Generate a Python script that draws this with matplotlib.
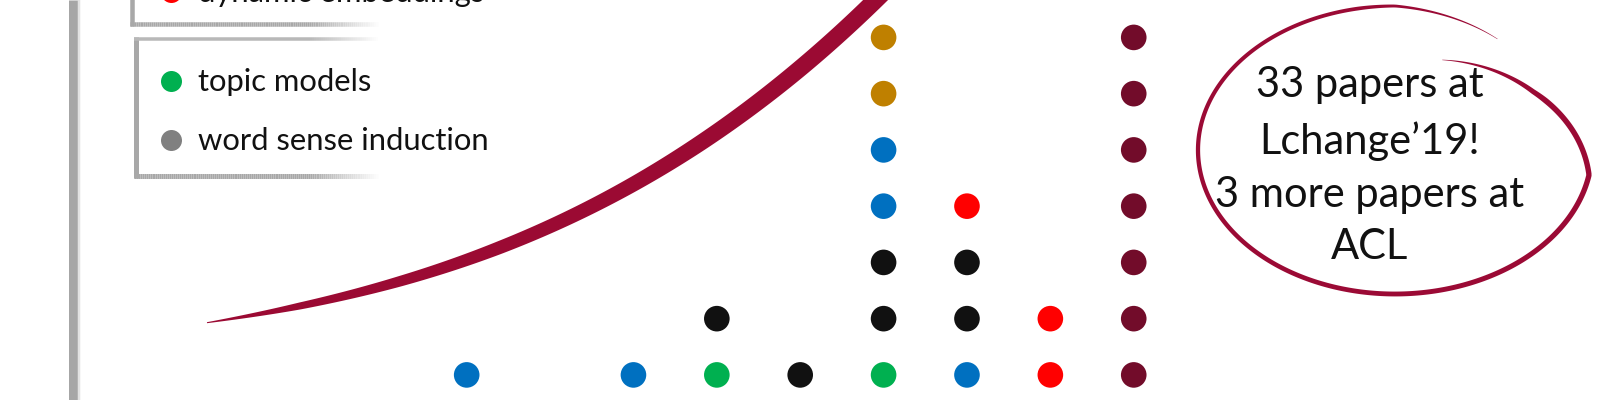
import numpy as np
import matplotlib
matplotlib.use("Agg")
import matplotlib.pyplot as plt
from matplotlib.patches import Polygon
from matplotlib.collections import LineCollection

# ---------------- data ----------------
years = [2011, 2013, 2014, 2015, 2016, 2017, 2018, 2019]
# papers per year, listed bottom -> top by method family
stacks = [
    ["co-occurrence"],
    ["co-occurrence"],
    ["topic models", "static embeddings"],
    ["static embeddings"],
    ["topic models", "static embeddings", "static embeddings",
     "co-occurrence", "co-occurrence", "laws", "laws"],
    ["co-occurrence", "static embeddings", "static embeddings", "dynamic embeddings"],
    ["dynamic embeddings", "dynamic embeddings"],
    ["LChange'19"] * 7,
]
category_colors = {
    "co-occurrence": "#0070C0",
    "topic models": "#00B050",
    "static embeddings": "#111111",
    "dynamic embeddings": "#FF0000",
    "laws": "#BF8000",
    "word sense induction": "#808080",
    "LChange'19": "#720C2A",
}
legend_box1 = ["dynamic embeddings"]
legend_box2 = ["topic models", "word sense induction"]
callout_lines = ["33 papers at", "Lchange\u201919!", "3 more papers at", "ACL"]

# hand-drawn growth swoosh: anchor points (pixels from top-left) and stroke width
swoosh_x = [207, 300, 400, 500, 600, 700, 800, 885]
swoosh_y = [323, 306, 280, 247, 205, 143, 66, -8]
swoosh_w = [1.0, 7.0, 10.5, 13.0, 14.5, 16.0, 17.0, 17.5]

# ---------------- figure ----------------
W, H, DPI = 1600, 400, 100
plt.rcParams['font.family'] = ['Lato', 'DejaVu Sans']
fig = plt.figure(figsize=(W / DPI, H / DPI), dpi=DPI)
fig.patch.set_facecolor("white")
ax = fig.add_axes([0, 0, 1, 1])
ax.set_xlim(2005.403, 2024.592)
ax.set_ylim(-0.446, 6.665)
ax.axis("off")

xs, ys, cs = [], [], []
for yr, stack in zip(years, stacks):
    for lvl, cat in enumerate(stack):
        xs.append(yr)
        ys.append(lvl)
        cs.append(category_colors[cat])
ax.scatter(xs, ys, s=340, c=cs, edgecolors="none", zorder=4)


def F(x, y):
    """pixel (from top-left) -> figure fraction"""
    return (x / W, 1 - y / H)


def tapered(P, widths, color, z=3):
    P = np.asarray(P, float)
    P = np.column_stack([P[:, 0], H - P[:, 1]])
    d = np.gradient(P, axis=0)
    d /= np.linalg.norm(d, axis=1, keepdims=True)
    n = np.column_stack([-d[:, 1], d[:, 0]])
    w = np.asarray(widths)[:, None] / 2
    poly = np.vstack([P + n * w, (P - n * w)[::-1]]) / [W, H]
    fig.add_artist(Polygon(poly, closed=True, transform=fig.transFigure,
                           facecolor=color, edgecolor="none", zorder=z))


# ---- y "axis" bar ----
fig.add_artist(plt.Line2D([73 / W] * 2, [0, 1], lw=9 * 0.72, color="#A6A6A6",
                          solid_capstyle="butt", transform=fig.transFigure))
fig.add_artist(plt.Line2D([79 / W] * 2, [0, 1], lw=2.5 * 0.72, color="#E2E2E2",
                          solid_capstyle="butt", transform=fig.transFigure))


def hline_fade(x0, x1, y, lw, color, fade=70):
    xx = np.linspace(x0, x1, 120)
    segs = [[F(xx[i], y), F(xx[i + 1], y)] for i in range(len(xx) - 1)]
    base = np.array(matplotlib.colors.to_rgb(color))
    cols = []
    for i in range(len(xx) - 1):
        a = np.clip((x1 - xx[i]) / fade, 0, 1)
        cols.append(base * a + np.ones(3) * (1 - a))
    lc = LineCollection(segs, colors=cols, linewidths=lw * 0.72,
                        transform=fig.transFigure, capstyle="butt")
    fig.add_artist(lc)


def vline(x, y0, y1, lw, color):
    fig.add_artist(plt.Line2D([x / W] * 2, [1 - y0 / H, 1 - y1 / H], lw=lw * 0.72,
                              color=color, solid_capstyle="butt",
                              transform=fig.transFigure))


# ---- legend boxes ----
vline(132, -5, 26, 4.5, "#A8A8A8")
hline_fade(130, 378, 24, 4.5, "#A8A8A8")
vline(136, 37, 178, 5, "#A8A8A8")
hline_fade(134, 378, 39, 3.5, "#B8B8B8")
hline_fade(134, 378, 176, 5, "#A8A8A8")

renderer = fig.canvas.get_renderer()
probe = fig.text(0, 0, "word sense induction", fontsize=20)
leg_fs = 20 * 292 / probe.get_window_extent(renderer).width
probe.remove()

leg_rows = [(legend_box1, [-8]), (legend_box2, [81, 140])]
for names, ycs in leg_rows:
    for name, yc in zip(names, ycs):
        fig.add_artist(plt.Line2D([171 / W], [1 - yc / H], marker="o", ms=21 * 0.72,
                                  mec="none", mfc=category_colors[name],
                                  transform=fig.transFigure))
        fig.text(*F(198, yc + 10), name, fontsize=leg_fs, color="#111111",
                 ha="left", va="baseline")

# ---- growth swoosh ----
coef = np.polyfit(swoosh_x, swoosh_y, 3)
cxs = np.linspace(swoosh_x[0], swoosh_x[-1], 400)
cys = np.polyval(coef, cxs)
cws = np.interp(cxs, swoosh_x, swoosh_w)
tapered(np.column_stack([cxs, cys]), cws, "#9B0A33", z=3)

# ---- callout loop ----
cx, cy, a, b = 1395, 150, 197, 144
th = np.radians(np.linspace(-69, 304, 500))
r = np.interp(np.degrees(th), [-69, -30, 10, 270, 304], [0.67, 0.81, 1.0, 1.0, 0.93])
loop = np.column_stack([cx + a * r * np.cos(th), cy + b * r * np.sin(th)])
u = np.linspace(0, 1, 500)
wl = 5.5 * np.minimum(1, u / 0.12) * (1 - 0.45 * u) * np.minimum(1, (1 - u) / 0.12) + 0.4
tapered(loop, wl, "#9B0A35", z=3)

probe = fig.text(0, 0, callout_lines[2], fontsize=20)
cal_fs = 20 * 310 / probe.get_window_extent(renderer).width
probe.remove()
for line, yb in zip(callout_lines, [97, 154, 207, 259]):
    fig.text(*F(1370, yb), line, fontsize=cal_fs, color="#111111",
             ha="center", va="baseline")

fig.savefig("out.png", dpi=DPI, facecolor="white")
